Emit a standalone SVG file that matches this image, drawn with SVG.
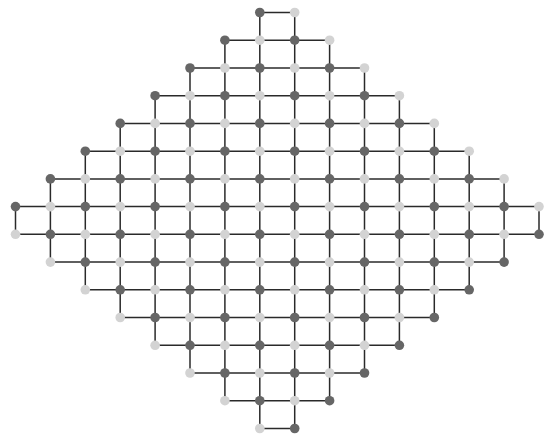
<svg xmlns="http://www.w3.org/2000/svg" width="544" height="437" viewBox="0 0 544 437">
<style>
.e path{stroke:#2a2a2a;stroke-width:1.5;fill:none}
.d{fill:#666666}
.l{fill:#d3d3d3}
</style>
<rect width="544" height="437" fill="#ffffff"/>
<g id="connectors" class="e">
<path d="M259.8 12.5H294.7"/>
<path d="M224.9 40.2H259.8"/><path d="M259.8 40.2H294.7"/><path d="M294.7 40.2H329.6"/>
<path d="M190 68H224.9"/><path d="M224.9 68H259.8"/><path d="M259.8 68H294.7"/><path d="M294.7 68H329.6"/><path d="M329.6 68H364.5"/>
<path d="M155.1 95.7H190"/><path d="M190 95.7H224.9"/><path d="M224.9 95.7H259.8"/><path d="M259.8 95.7H294.7"/><path d="M294.7 95.7H329.6"/><path d="M329.6 95.7H364.5"/><path d="M364.5 95.7H399.4"/>
<path d="M120.2 123.4H155.1"/><path d="M155.1 123.4H190"/><path d="M190 123.4H224.9"/><path d="M224.9 123.4H259.8"/><path d="M259.8 123.4H294.7"/><path d="M294.7 123.4H329.6"/><path d="M329.6 123.4H364.5"/><path d="M364.5 123.4H399.4"/><path d="M399.4 123.4H434.3"/>
<path d="M85.3 151.2H120.2"/><path d="M120.2 151.2H155.1"/><path d="M155.1 151.2H190"/><path d="M190 151.2H224.9"/><path d="M224.9 151.2H259.8"/><path d="M259.8 151.2H294.7"/><path d="M294.7 151.2H329.6"/><path d="M329.6 151.2H364.5"/><path d="M364.5 151.2H399.4"/><path d="M399.4 151.2H434.3"/><path d="M434.3 151.2H469.2"/>
<path d="M50.4 178.9H85.3"/><path d="M85.3 178.9H120.2"/><path d="M120.2 178.9H155.1"/><path d="M155.1 178.9H190"/><path d="M190 178.9H224.9"/><path d="M224.9 178.9H259.8"/><path d="M259.8 178.9H294.7"/><path d="M294.7 178.9H329.6"/><path d="M329.6 178.9H364.5"/><path d="M364.5 178.9H399.4"/><path d="M399.4 178.9H434.3"/><path d="M434.3 178.9H469.2"/><path d="M469.2 178.9H504.1"/>
<path d="M15.5 206.6H50.4"/><path d="M50.4 206.6H85.3"/><path d="M85.3 206.6H120.2"/><path d="M120.2 206.6H155.1"/><path d="M155.1 206.6H190"/><path d="M190 206.6H224.9"/><path d="M224.9 206.6H259.8"/><path d="M259.8 206.6H294.7"/><path d="M294.7 206.6H329.6"/><path d="M329.6 206.6H364.5"/><path d="M364.5 206.6H399.4"/><path d="M399.4 206.6H434.3"/><path d="M434.3 206.6H469.2"/><path d="M469.2 206.6H504.1"/><path d="M504.1 206.6H539"/>
<path d="M15.5 234.3H50.4"/><path d="M50.4 234.3H85.3"/><path d="M85.3 234.3H120.2"/><path d="M120.2 234.3H155.1"/><path d="M155.1 234.3H190"/><path d="M190 234.3H224.9"/><path d="M224.9 234.3H259.8"/><path d="M259.8 234.3H294.7"/><path d="M294.7 234.3H329.6"/><path d="M329.6 234.3H364.5"/><path d="M364.5 234.3H399.4"/><path d="M399.4 234.3H434.3"/><path d="M434.3 234.3H469.2"/><path d="M469.2 234.3H504.1"/><path d="M504.1 234.3H539"/>
<path d="M50.4 262.1H85.3"/><path d="M85.3 262.1H120.2"/><path d="M120.2 262.1H155.1"/><path d="M155.1 262.1H190"/><path d="M190 262.1H224.9"/><path d="M224.9 262.1H259.8"/><path d="M259.8 262.1H294.7"/><path d="M294.7 262.1H329.6"/><path d="M329.6 262.1H364.5"/><path d="M364.5 262.1H399.4"/><path d="M399.4 262.1H434.3"/><path d="M434.3 262.1H469.2"/><path d="M469.2 262.1H504.1"/>
<path d="M85.3 289.8H120.2"/><path d="M120.2 289.8H155.1"/><path d="M155.1 289.8H190"/><path d="M190 289.8H224.9"/><path d="M224.9 289.8H259.8"/><path d="M259.8 289.8H294.7"/><path d="M294.7 289.8H329.6"/><path d="M329.6 289.8H364.5"/><path d="M364.5 289.8H399.4"/><path d="M399.4 289.8H434.3"/><path d="M434.3 289.8H469.2"/>
<path d="M120.2 317.5H155.1"/><path d="M155.1 317.5H190"/><path d="M190 317.5H224.9"/><path d="M224.9 317.5H259.8"/><path d="M259.8 317.5H294.7"/><path d="M294.7 317.5H329.6"/><path d="M329.6 317.5H364.5"/><path d="M364.5 317.5H399.4"/><path d="M399.4 317.5H434.3"/>
<path d="M155.1 345.3H190"/><path d="M190 345.3H224.9"/><path d="M224.9 345.3H259.8"/><path d="M259.8 345.3H294.7"/><path d="M294.7 345.3H329.6"/><path d="M329.6 345.3H364.5"/><path d="M364.5 345.3H399.4"/>
<path d="M190 373H224.9"/><path d="M224.9 373H259.8"/><path d="M259.8 373H294.7"/><path d="M294.7 373H329.6"/><path d="M329.6 373H364.5"/>
<path d="M224.9 400.7H259.8"/><path d="M259.8 400.7H294.7"/><path d="M294.7 400.7H329.6"/>
<path d="M259.8 428.5H294.7"/>
<path d="M15.5 206.6V234.3"/>
<path d="M50.4 178.9V206.6"/><path d="M50.4 206.6V234.3"/><path d="M50.4 234.3V262.1"/>
<path d="M85.3 151.2V178.9"/><path d="M85.3 178.9V206.6"/><path d="M85.3 206.6V234.3"/><path d="M85.3 234.3V262.1"/><path d="M85.3 262.1V289.8"/>
<path d="M120.2 123.4V151.2"/><path d="M120.2 151.2V178.9"/><path d="M120.2 178.9V206.6"/><path d="M120.2 206.6V234.3"/><path d="M120.2 234.3V262.1"/><path d="M120.2 262.1V289.8"/><path d="M120.2 289.8V317.5"/>
<path d="M155.1 95.7V123.4"/><path d="M155.1 123.4V151.2"/><path d="M155.1 151.2V178.9"/><path d="M155.1 178.9V206.6"/><path d="M155.1 206.6V234.3"/><path d="M155.1 234.3V262.1"/><path d="M155.1 262.1V289.8"/><path d="M155.1 289.8V317.5"/><path d="M155.1 317.5V345.3"/>
<path d="M190 68V95.7"/><path d="M190 95.7V123.4"/><path d="M190 123.4V151.2"/><path d="M190 151.2V178.9"/><path d="M190 178.9V206.6"/><path d="M190 206.6V234.3"/><path d="M190 234.3V262.1"/><path d="M190 262.1V289.8"/><path d="M190 289.8V317.5"/><path d="M190 317.5V345.3"/><path d="M190 345.3V373"/>
<path d="M224.9 40.2V68"/><path d="M224.9 68V95.7"/><path d="M224.9 95.7V123.4"/><path d="M224.9 123.4V151.2"/><path d="M224.9 151.2V178.9"/><path d="M224.9 178.9V206.6"/><path d="M224.9 206.6V234.3"/><path d="M224.9 234.3V262.1"/><path d="M224.9 262.1V289.8"/><path d="M224.9 289.8V317.5"/><path d="M224.9 317.5V345.3"/><path d="M224.9 345.3V373"/><path d="M224.9 373V400.7"/>
<path d="M259.8 12.5V40.2"/><path d="M259.8 40.2V68"/><path d="M259.8 68V95.7"/><path d="M259.8 95.7V123.4"/><path d="M259.8 123.4V151.2"/><path d="M259.8 151.2V178.9"/><path d="M259.8 178.9V206.6"/><path d="M259.8 206.6V234.3"/><path d="M259.8 234.3V262.1"/><path d="M259.8 262.1V289.8"/><path d="M259.8 289.8V317.5"/><path d="M259.8 317.5V345.3"/><path d="M259.8 345.3V373"/><path d="M259.8 373V400.7"/><path d="M259.8 400.7V428.5"/>
<path d="M294.7 12.5V40.2"/><path d="M294.7 40.2V68"/><path d="M294.7 68V95.7"/><path d="M294.7 95.7V123.4"/><path d="M294.7 123.4V151.2"/><path d="M294.7 151.2V178.9"/><path d="M294.7 178.9V206.6"/><path d="M294.7 206.6V234.3"/><path d="M294.7 234.3V262.1"/><path d="M294.7 262.1V289.8"/><path d="M294.7 289.8V317.5"/><path d="M294.7 317.5V345.3"/><path d="M294.7 345.3V373"/><path d="M294.7 373V400.7"/><path d="M294.7 400.7V428.5"/>
<path d="M329.6 40.2V68"/><path d="M329.6 68V95.7"/><path d="M329.6 95.7V123.4"/><path d="M329.6 123.4V151.2"/><path d="M329.6 151.2V178.9"/><path d="M329.6 178.9V206.6"/><path d="M329.6 206.6V234.3"/><path d="M329.6 234.3V262.1"/><path d="M329.6 262.1V289.8"/><path d="M329.6 289.8V317.5"/><path d="M329.6 317.5V345.3"/><path d="M329.6 345.3V373"/><path d="M329.6 373V400.7"/>
<path d="M364.5 68V95.7"/><path d="M364.5 95.7V123.4"/><path d="M364.5 123.4V151.2"/><path d="M364.5 151.2V178.9"/><path d="M364.5 178.9V206.6"/><path d="M364.5 206.6V234.3"/><path d="M364.5 234.3V262.1"/><path d="M364.5 262.1V289.8"/><path d="M364.5 289.8V317.5"/><path d="M364.5 317.5V345.3"/><path d="M364.5 345.3V373"/>
<path d="M399.4 95.7V123.4"/><path d="M399.4 123.4V151.2"/><path d="M399.4 151.2V178.9"/><path d="M399.4 178.9V206.6"/><path d="M399.4 206.6V234.3"/><path d="M399.4 234.3V262.1"/><path d="M399.4 262.1V289.8"/><path d="M399.4 289.8V317.5"/><path d="M399.4 317.5V345.3"/>
<path d="M434.3 123.4V151.2"/><path d="M434.3 151.2V178.9"/><path d="M434.3 178.9V206.6"/><path d="M434.3 206.6V234.3"/><path d="M434.3 234.3V262.1"/><path d="M434.3 262.1V289.8"/><path d="M434.3 289.8V317.5"/>
<path d="M469.2 151.2V178.9"/><path d="M469.2 178.9V206.6"/><path d="M469.2 206.6V234.3"/><path d="M469.2 234.3V262.1"/><path d="M469.2 262.1V289.8"/>
<path d="M504.1 178.9V206.6"/><path d="M504.1 206.6V234.3"/><path d="M504.1 234.3V262.1"/>
<path d="M539 206.6V234.3"/>
</g>
<g id="nodes">
<g id="n0-7"><circle class="d" cx="259.8" cy="12.5" r="4.8"/></g>
<g id="n0-8"><circle class="l" cx="294.7" cy="12.5" r="4.8"/></g>
<g id="n1-6"><circle class="d" cx="224.9" cy="40.2" r="4.8"/></g>
<g id="n1-7"><circle class="l" cx="259.8" cy="40.2" r="4.8"/></g>
<g id="n1-8"><circle class="d" cx="294.7" cy="40.2" r="4.8"/></g>
<g id="n1-9"><circle class="l" cx="329.6" cy="40.2" r="4.8"/></g>
<g id="n2-5"><circle class="d" cx="190" cy="68" r="4.8"/></g>
<g id="n2-6"><circle class="l" cx="224.9" cy="68" r="4.8"/></g>
<g id="n2-7"><circle class="d" cx="259.8" cy="68" r="4.8"/></g>
<g id="n2-8"><circle class="l" cx="294.7" cy="68" r="4.8"/></g>
<g id="n2-9"><circle class="d" cx="329.6" cy="68" r="4.8"/></g>
<g id="n2-10"><circle class="l" cx="364.5" cy="68" r="4.8"/></g>
<g id="n3-4"><circle class="d" cx="155.1" cy="95.7" r="4.8"/></g>
<g id="n3-5"><circle class="l" cx="190" cy="95.7" r="4.8"/></g>
<g id="n3-6"><circle class="d" cx="224.9" cy="95.7" r="4.8"/></g>
<g id="n3-7"><circle class="l" cx="259.8" cy="95.7" r="4.8"/></g>
<g id="n3-8"><circle class="d" cx="294.7" cy="95.7" r="4.8"/></g>
<g id="n3-9"><circle class="l" cx="329.6" cy="95.7" r="4.8"/></g>
<g id="n3-10"><circle class="d" cx="364.5" cy="95.7" r="4.8"/></g>
<g id="n3-11"><circle class="l" cx="399.4" cy="95.7" r="4.8"/></g>
<g id="n4-3"><circle class="d" cx="120.2" cy="123.4" r="4.8"/></g>
<g id="n4-4"><circle class="l" cx="155.1" cy="123.4" r="4.8"/></g>
<g id="n4-5"><circle class="d" cx="190" cy="123.4" r="4.8"/></g>
<g id="n4-6"><circle class="l" cx="224.9" cy="123.4" r="4.8"/></g>
<g id="n4-7"><circle class="d" cx="259.8" cy="123.4" r="4.8"/></g>
<g id="n4-8"><circle class="l" cx="294.7" cy="123.4" r="4.8"/></g>
<g id="n4-9"><circle class="d" cx="329.6" cy="123.4" r="4.8"/></g>
<g id="n4-10"><circle class="l" cx="364.5" cy="123.4" r="4.8"/></g>
<g id="n4-11"><circle class="d" cx="399.4" cy="123.4" r="4.8"/></g>
<g id="n4-12"><circle class="l" cx="434.3" cy="123.4" r="4.8"/></g>
<g id="n5-2"><circle class="d" cx="85.3" cy="151.2" r="4.8"/></g>
<g id="n5-3"><circle class="l" cx="120.2" cy="151.2" r="4.8"/></g>
<g id="n5-4"><circle class="d" cx="155.1" cy="151.2" r="4.8"/></g>
<g id="n5-5"><circle class="l" cx="190" cy="151.2" r="4.8"/></g>
<g id="n5-6"><circle class="d" cx="224.9" cy="151.2" r="4.8"/></g>
<g id="n5-7"><circle class="l" cx="259.8" cy="151.2" r="4.8"/></g>
<g id="n5-8"><circle class="d" cx="294.7" cy="151.2" r="4.8"/></g>
<g id="n5-9"><circle class="l" cx="329.6" cy="151.2" r="4.8"/></g>
<g id="n5-10"><circle class="d" cx="364.5" cy="151.2" r="4.8"/></g>
<g id="n5-11"><circle class="l" cx="399.4" cy="151.2" r="4.8"/></g>
<g id="n5-12"><circle class="d" cx="434.3" cy="151.2" r="4.8"/></g>
<g id="n5-13"><circle class="l" cx="469.2" cy="151.2" r="4.8"/></g>
<g id="n6-1"><circle class="d" cx="50.4" cy="178.9" r="4.8"/></g>
<g id="n6-2"><circle class="l" cx="85.3" cy="178.9" r="4.8"/></g>
<g id="n6-3"><circle class="d" cx="120.2" cy="178.9" r="4.8"/></g>
<g id="n6-4"><circle class="l" cx="155.1" cy="178.9" r="4.8"/></g>
<g id="n6-5"><circle class="d" cx="190" cy="178.9" r="4.8"/></g>
<g id="n6-6"><circle class="l" cx="224.9" cy="178.9" r="4.8"/></g>
<g id="n6-7"><circle class="d" cx="259.8" cy="178.9" r="4.8"/></g>
<g id="n6-8"><circle class="l" cx="294.7" cy="178.9" r="4.8"/></g>
<g id="n6-9"><circle class="d" cx="329.6" cy="178.9" r="4.8"/></g>
<g id="n6-10"><circle class="l" cx="364.5" cy="178.9" r="4.8"/></g>
<g id="n6-11"><circle class="d" cx="399.4" cy="178.9" r="4.8"/></g>
<g id="n6-12"><circle class="l" cx="434.3" cy="178.9" r="4.8"/></g>
<g id="n6-13"><circle class="d" cx="469.2" cy="178.9" r="4.8"/></g>
<g id="n6-14"><circle class="l" cx="504.1" cy="178.9" r="4.8"/></g>
<g id="n7-0"><circle class="d" cx="15.5" cy="206.6" r="4.8"/></g>
<g id="n7-1"><circle class="l" cx="50.4" cy="206.6" r="4.8"/></g>
<g id="n7-2"><circle class="d" cx="85.3" cy="206.6" r="4.8"/></g>
<g id="n7-3"><circle class="l" cx="120.2" cy="206.6" r="4.8"/></g>
<g id="n7-4"><circle class="d" cx="155.1" cy="206.6" r="4.8"/></g>
<g id="n7-5"><circle class="l" cx="190" cy="206.6" r="4.8"/></g>
<g id="n7-6"><circle class="d" cx="224.9" cy="206.6" r="4.8"/></g>
<g id="n7-7"><circle class="l" cx="259.8" cy="206.6" r="4.8"/></g>
<g id="n7-8"><circle class="d" cx="294.7" cy="206.6" r="4.8"/></g>
<g id="n7-9"><circle class="l" cx="329.6" cy="206.6" r="4.8"/></g>
<g id="n7-10"><circle class="d" cx="364.5" cy="206.6" r="4.8"/></g>
<g id="n7-11"><circle class="l" cx="399.4" cy="206.6" r="4.8"/></g>
<g id="n7-12"><circle class="d" cx="434.3" cy="206.6" r="4.8"/></g>
<g id="n7-13"><circle class="l" cx="469.2" cy="206.6" r="4.8"/></g>
<g id="n7-14"><circle class="d" cx="504.1" cy="206.6" r="4.8"/></g>
<g id="n7-15"><circle class="l" cx="539" cy="206.6" r="4.8"/></g>
<g id="n8-0"><circle class="l" cx="15.5" cy="234.3" r="4.8"/></g>
<g id="n8-1"><circle class="d" cx="50.4" cy="234.3" r="4.8"/></g>
<g id="n8-2"><circle class="l" cx="85.3" cy="234.3" r="4.8"/></g>
<g id="n8-3"><circle class="d" cx="120.2" cy="234.3" r="4.8"/></g>
<g id="n8-4"><circle class="l" cx="155.1" cy="234.3" r="4.8"/></g>
<g id="n8-5"><circle class="d" cx="190" cy="234.3" r="4.8"/></g>
<g id="n8-6"><circle class="l" cx="224.9" cy="234.3" r="4.8"/></g>
<g id="n8-7"><circle class="d" cx="259.8" cy="234.3" r="4.8"/></g>
<g id="n8-8"><circle class="l" cx="294.7" cy="234.3" r="4.8"/></g>
<g id="n8-9"><circle class="d" cx="329.6" cy="234.3" r="4.8"/></g>
<g id="n8-10"><circle class="l" cx="364.5" cy="234.3" r="4.8"/></g>
<g id="n8-11"><circle class="d" cx="399.4" cy="234.3" r="4.8"/></g>
<g id="n8-12"><circle class="l" cx="434.3" cy="234.3" r="4.8"/></g>
<g id="n8-13"><circle class="d" cx="469.2" cy="234.3" r="4.8"/></g>
<g id="n8-14"><circle class="l" cx="504.1" cy="234.3" r="4.8"/></g>
<g id="n8-15"><circle class="d" cx="539" cy="234.3" r="4.8"/></g>
<g id="n9-1"><circle class="l" cx="50.4" cy="262.1" r="4.8"/></g>
<g id="n9-2"><circle class="d" cx="85.3" cy="262.1" r="4.8"/></g>
<g id="n9-3"><circle class="l" cx="120.2" cy="262.1" r="4.8"/></g>
<g id="n9-4"><circle class="d" cx="155.1" cy="262.1" r="4.8"/></g>
<g id="n9-5"><circle class="l" cx="190" cy="262.1" r="4.8"/></g>
<g id="n9-6"><circle class="d" cx="224.9" cy="262.1" r="4.8"/></g>
<g id="n9-7"><circle class="l" cx="259.8" cy="262.1" r="4.8"/></g>
<g id="n9-8"><circle class="d" cx="294.7" cy="262.1" r="4.8"/></g>
<g id="n9-9"><circle class="l" cx="329.6" cy="262.1" r="4.8"/></g>
<g id="n9-10"><circle class="d" cx="364.5" cy="262.1" r="4.8"/></g>
<g id="n9-11"><circle class="l" cx="399.4" cy="262.1" r="4.8"/></g>
<g id="n9-12"><circle class="d" cx="434.3" cy="262.1" r="4.8"/></g>
<g id="n9-13"><circle class="l" cx="469.2" cy="262.1" r="4.8"/></g>
<g id="n9-14"><circle class="d" cx="504.1" cy="262.1" r="4.8"/></g>
<g id="n10-2"><circle class="l" cx="85.3" cy="289.8" r="4.8"/></g>
<g id="n10-3"><circle class="d" cx="120.2" cy="289.8" r="4.8"/></g>
<g id="n10-4"><circle class="l" cx="155.1" cy="289.8" r="4.8"/></g>
<g id="n10-5"><circle class="d" cx="190" cy="289.8" r="4.8"/></g>
<g id="n10-6"><circle class="l" cx="224.9" cy="289.8" r="4.8"/></g>
<g id="n10-7"><circle class="d" cx="259.8" cy="289.8" r="4.8"/></g>
<g id="n10-8"><circle class="l" cx="294.7" cy="289.8" r="4.8"/></g>
<g id="n10-9"><circle class="d" cx="329.6" cy="289.8" r="4.8"/></g>
<g id="n10-10"><circle class="l" cx="364.5" cy="289.8" r="4.8"/></g>
<g id="n10-11"><circle class="d" cx="399.4" cy="289.8" r="4.8"/></g>
<g id="n10-12"><circle class="l" cx="434.3" cy="289.8" r="4.8"/></g>
<g id="n10-13"><circle class="d" cx="469.2" cy="289.8" r="4.8"/></g>
<g id="n11-3"><circle class="l" cx="120.2" cy="317.5" r="4.8"/></g>
<g id="n11-4"><circle class="d" cx="155.1" cy="317.5" r="4.8"/></g>
<g id="n11-5"><circle class="l" cx="190" cy="317.5" r="4.8"/></g>
<g id="n11-6"><circle class="d" cx="224.9" cy="317.5" r="4.8"/></g>
<g id="n11-7"><circle class="l" cx="259.8" cy="317.5" r="4.8"/></g>
<g id="n11-8"><circle class="d" cx="294.7" cy="317.5" r="4.8"/></g>
<g id="n11-9"><circle class="l" cx="329.6" cy="317.5" r="4.8"/></g>
<g id="n11-10"><circle class="d" cx="364.5" cy="317.5" r="4.8"/></g>
<g id="n11-11"><circle class="l" cx="399.4" cy="317.5" r="4.8"/></g>
<g id="n11-12"><circle class="d" cx="434.3" cy="317.5" r="4.8"/></g>
<g id="n12-4"><circle class="l" cx="155.1" cy="345.3" r="4.8"/></g>
<g id="n12-5"><circle class="d" cx="190" cy="345.3" r="4.8"/></g>
<g id="n12-6"><circle class="l" cx="224.9" cy="345.3" r="4.8"/></g>
<g id="n12-7"><circle class="d" cx="259.8" cy="345.3" r="4.8"/></g>
<g id="n12-8"><circle class="l" cx="294.7" cy="345.3" r="4.8"/></g>
<g id="n12-9"><circle class="d" cx="329.6" cy="345.3" r="4.8"/></g>
<g id="n12-10"><circle class="l" cx="364.5" cy="345.3" r="4.8"/></g>
<g id="n12-11"><circle class="d" cx="399.4" cy="345.3" r="4.8"/></g>
<g id="n13-5"><circle class="l" cx="190" cy="373" r="4.8"/></g>
<g id="n13-6"><circle class="d" cx="224.9" cy="373" r="4.8"/></g>
<g id="n13-7"><circle class="l" cx="259.8" cy="373" r="4.8"/></g>
<g id="n13-8"><circle class="d" cx="294.7" cy="373" r="4.8"/></g>
<g id="n13-9"><circle class="l" cx="329.6" cy="373" r="4.8"/></g>
<g id="n13-10"><circle class="d" cx="364.5" cy="373" r="4.8"/></g>
<g id="n14-6"><circle class="l" cx="224.9" cy="400.7" r="4.8"/></g>
<g id="n14-7"><circle class="d" cx="259.8" cy="400.7" r="4.8"/></g>
<g id="n14-8"><circle class="l" cx="294.7" cy="400.7" r="4.8"/></g>
<g id="n14-9"><circle class="d" cx="329.6" cy="400.7" r="4.8"/></g>
<g id="n15-7"><circle class="l" cx="259.8" cy="428.5" r="4.8"/></g>
<g id="n15-8"><circle class="d" cx="294.7" cy="428.5" r="4.8"/></g>
</g>
</svg>
